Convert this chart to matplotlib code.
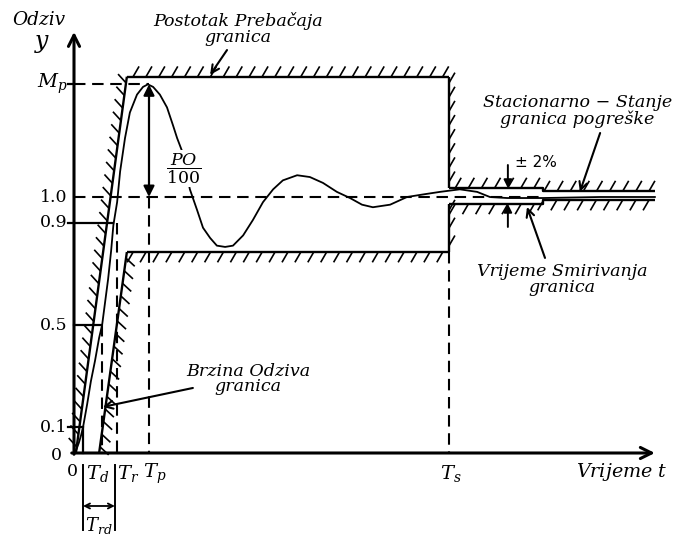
import matplotlib
matplotlib.use("Agg")
import matplotlib.pyplot as plt
from matplotlib import patheffects

plt.rcParams['mathtext.fontset'] = 'dejavuserif'
plt.rcParams['font.family'] = ['DejaVu Serif']

## step response (time, response)
resp_t = [0.03, 0.08, 0.13, 0.19, 0.24, 0.35, 0.45, 0.56, 0.67, 0.75, 0.83, 0.91, 0.99,
          1.05, 1.15, 1.23, 1.36, 1.49, 1.68, 1.84, 1.97, 2.11, 2.29, 2.48, 2.64, 2.75,
          2.88, 2.99, 3.09, 3.28, 3.44, 3.63, 3.81, 4.03, 4.24, 4.51, 4.77, 5.04, 5.31,
          5.57, 5.95, 6.29, 6.64, 7.01, 7.36, 7.68, 7.97, 8.43, 8.88, 9.31, 9.76, 10.29,
          10.75, 11.09, 11.55, 12.51, 14.03, 15.49]
resp_y = [0.0, 0.02, 0.04, 0.07, 0.10, 0.19, 0.28, 0.36, 0.45, 0.50, 0.59, 0.68, 0.79,
          0.89, 0.98, 1.10, 1.23, 1.33, 1.40, 1.43, 1.44, 1.43, 1.40, 1.35, 1.28, 1.23,
          1.18, 1.10, 1.03, 0.95, 0.88, 0.84, 0.81, 0.805, 0.81, 0.85, 0.91, 0.98, 1.03,
          1.065, 1.085, 1.078, 1.055, 1.02, 0.996, 0.97, 0.96, 0.97, 1.00, 1.01, 1.02, 1.03,
          1.02, 1.00, 0.996, 0.996, 1.0, 1.0]

## characteristic values
Mp = 1.44
Tp = 2.0
Td = 0.74
Tr = 1.14
Ts = 10.0
t10, t90 = 0.24, 1.09
y_ticks = [0.1, 0.5, 0.9, 1.0]
y_tick_labels = ['0.1', '0.5', '0.9', '1.0']
x_tick_t = [0.64, 1.44, 2.16, 10.05]
x_tick_labels = ['$T_d$', '$T_r$', '$T_p$', '$T_s$']

## bounds of the allowed region
over_bound = 1.47
under_bound = 0.785
settle_band = (0.973, 1.035)
steady_band = (0.988, 1.023)
t_settle_end = 12.5
t_end = 15.5
lead_edge = ([0.05, 1.41], [0.0, over_bound])
lag_edge = ([1.41, 0.67], [under_bound, 0.0])

fig = plt.figure(figsize=(6.8, 5.38), dpi=100)
ax = fig.add_axes([0, 0, 1, 1])
ax.set_xlim(-74 / 37.5, 606 / 37.5)
ax.set_ylim(-85 / 256, 453 / 256)
ax.axis('off')

def hatched(xs, ys, angle):
    ax.plot(xs, ys, color='k', lw=1.7, solid_capstyle='butt',
            path_effects=[patheffects.withTickedStroke(angle=angle, spacing=9, length=0.95,
                                                       linewidth=1.2)])

dash = dict(color='k', lw=1.5, ls=(0, (5.5, 3.2)))
note = dict(fontsize=12.6, style='italic', ha='center', va='center', linespacing=0.92)
pointer = dict(arrowstyle='->', lw=1.5, color='k', shrinkA=0, shrinkB=0, mutation_scale=14)

# axes with arrows
ax.annotate('', xy=(0, 1.645), xytext=(0, -0.005),
            arrowprops=dict(arrowstyle='->', lw=2.2, color='k', shrinkA=0, shrinkB=0, mutation_scale=20))
ax.annotate('', xy=(15.49, 0), xytext=(-0.06, 0),
            arrowprops=dict(arrowstyle='->', lw=2.2, color='k', shrinkA=0, shrinkB=0, mutation_scale=20))

# hatched bounds
hatched(lead_edge[0], lead_edge[1], 50)
hatched([lead_edge[0][1], Ts], [over_bound, over_bound], 60)
hatched([Ts, Ts], [over_bound, settle_band[1]], 150)
hatched([Ts, t_settle_end, t_settle_end, t_end],
        [settle_band[1], settle_band[1], steady_band[1], steady_band[1]], 60)
hatched([t_end, t_settle_end, t_settle_end, Ts],
        [steady_band[0], steady_band[0], settle_band[0], settle_band[0]], 60)
hatched([Ts, Ts], [settle_band[0], under_bound], 150)
hatched([Ts, lag_edge[0][0]], [under_bound, under_bound], 60)
hatched(lag_edge[0], lag_edge[1], 55)

# response
ax.plot(resp_t, resp_y, color='k', lw=1.3)

# reference lines
ax.plot([0, t_settle_end], [1.0, 1.0], **dash)
ax.plot([0, Tp], [Mp, Mp], **dash)
ax.plot([-0.17, 0], [Mp, Mp], color='k', lw=1.6)
ax.plot([Tp, Tp], [1.0, 0], **dash)
ax.plot([Tr, Tr], [0.9, 0], **dash)
ax.plot([Td, Td], [0.5, 0], **dash)
ax.plot([Ts, Ts], [under_bound, 0], **dash)
ax.plot([-0.17, t10], [0.1, 0.1], color='k', lw=1.6)
ax.plot([t10, t10], [0.1, 0], color='k', lw=1.6)
ax.plot([0, Td - 0.02], [0.5, 0.5], color='k', lw=1.6)
ax.plot([-0.17, 1.04], [0.9, 0.9], color='k', lw=1.6)

# rise time bracket
ax.plot([t10, t10], [-0.047, -0.30], color='k', lw=1.4)
ax.plot([t90, t90], [-0.047, -0.30], color='k', lw=1.4)
ax.annotate('', xy=(t10, -0.207), xytext=(t90, -0.207),
            arrowprops=dict(arrowstyle='<->', lw=1.3, color='k', shrinkA=0, shrinkB=0, mutation_scale=9))
ax.text((t10 + t90) / 2, -0.285, '$T_{rd}$', fontsize=13, ha='center', va='center')

# overshoot arrow
ax.annotate('', xy=(Tp, Mp), xytext=(Tp, 1.0),
            arrowprops=dict(arrowstyle='<|-|>', lw=1.6, color='k', shrinkA=0, shrinkB=0, mutation_scale=16))
ax.text(2.93, 1.11, r'$\dfrac{PO}{100}$', fontsize=12.5, ha='center', va='center',
        bbox=dict(facecolor='white', edgecolor='none', pad=1))

# tick labels
for lv, lab in zip(y_ticks, y_tick_labels):
    ax.text(-0.18, lv, lab, fontsize=12.5, ha='right', va='center')
ax.text(-0.18, Mp, '$M_p$', fontsize=14, ha='right', va='center')
ax.text(-0.32, -0.01, '0', fontsize=12.5, ha='right', va='center')
ax.text(-0.03, -0.072, '0', fontsize=12.5, ha='center', va='center')
for tt, lab in zip(x_tick_t, x_tick_labels):
    ax.text(tt, -0.08, lab, fontsize=14, ha='center', va='center')
ax.text(14.62, -0.074, 'Vrijeme $t$', fontsize=13.8, style='italic', ha='center', va='center')
ax.text(-0.93, 1.69, 'Odziv', fontsize=13.3, style='italic', ha='center', va='center')
ax.text(-0.85, 1.60, '$y$', fontsize=17, ha='center', va='center')

# annotations
ax.text(4.37, 1.655, 'Postotak Prebačaja\ngranica', **note)
ax.annotate('', xy=(3.63, 1.477), xytext=(4.08, 1.574), arrowprops=pointer)

ax.text(13.42, 1.336, 'Stacionarno − Stanje\ngranica pogreške', **note)
ax.annotate('', xy=(13.49, 1.02), xytext=(14.03, 1.25), arrowprops=pointer)

ax.text(13.02, 0.676, 'Vrijeme Smirivanja\ngranica', **note)
ax.annotate('', xy=(12.08, 0.961), xytext=(12.56, 0.762), arrowprops=pointer)

ax.text(4.64, 0.289, 'Brzina Odziva\ngranica', **note)
ax.annotate('', xy=(0.77, 0.18), xytext=(3.17, 0.254), arrowprops=pointer)

# +-2% marks
ax.text(11.76, 1.133, '± 2%', family='DejaVu Sans', fontsize=11, ha='left', va='center')
ax.annotate('', xy=(11.57, settle_band[1]), xytext=(11.57, 1.125),
            arrowprops=dict(arrowstyle='-|>', lw=1.4, color='k', shrinkA=0, shrinkB=0, mutation_scale=12))
ax.annotate('', xy=(11.57, settle_band[0]), xytext=(11.57, 0.883),
            arrowprops=dict(arrowstyle='-|>', lw=1.4, color='k', shrinkA=0, shrinkB=0, mutation_scale=12))

fig.savefig('out.png', dpi=100)
